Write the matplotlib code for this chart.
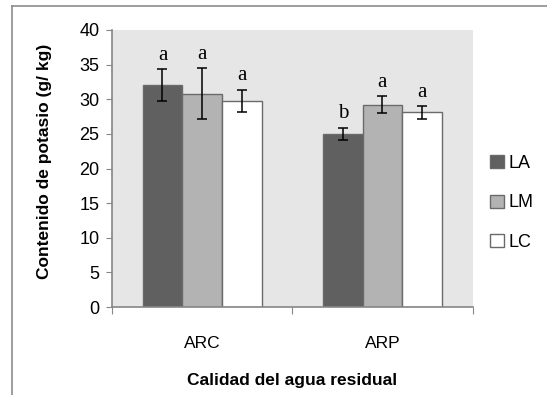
import matplotlib
matplotlib.use("Agg")
import matplotlib.pyplot as plt
import numpy as np
from matplotlib.lines import Line2D

categories = ["ARC", "ARP"]
series = ["LA", "LM", "LC"]
means = {"LA": [32.0, 25.0], "LM": [30.8, 29.2], "LC": [29.8, 28.1]}
errors = {"LA": [2.3, 0.9], "LM": [3.7, 1.2], "LC": [1.6, 0.95]}
letters = {"LA": ["a", "b"], "LM": ["a", "a"], "LC": ["a", "a"]}
yticks = [0, 5, 10, 15, 20, 25, 30, 35, 40]

colors = {"LA": "#606060", "LM": "#b3b3b3", "LC": "#ffffff"}

plt.rcParams['font.family'] = ['Liberation Sans', 'DejaVu Sans']

fig = plt.figure(figsize=(5.47, 3.95), dpi=100)
ax = fig.add_axes([112/547, 1-307/395, (472.5-112)/547, (307-30)/395])
ax.set_facecolor("#e6e6e6")

x = np.arange(len(categories))
w = 0.22
for i, s in enumerate(series):
    pos = x + (i - 1) * w
    ax.bar(pos, means[s], width=w, color=colors[s], edgecolor="#6a6a6a",
           linewidth=1.0, label=s, zorder=2)
    ax.errorbar(pos, means[s], yerr=errors[s], fmt="none", ecolor="black",
                elinewidth=1.1, capsize=3.8, capthick=1.1, zorder=3)
    for p, m, e, t in zip(pos, means[s], errors[s], letters[s]):
        ax.annotate(t, (p, m + e), xytext=(0, 3), textcoords="offset points",
                    ha="center", va="bottom", fontsize=15,
                    family=["Liberation Serif", "DejaVu Serif"])

ax.set_xlim(-0.5, 1.5)
ax.set_ylim(0, 40)
ax.set_yticks(yticks)
ax.tick_params(axis="y", labelsize=13, length=4, color="#868686", pad=5, direction="out")
ax.set_xticks([-0.5, 0.5, 1.5])
ax.set_xticklabels([])
ax.set_xticks(x, minor=True)
ax.set_xticklabels(categories, minor=True)
ax.tick_params(axis="x", which="major", length=5, color="#868686", direction="out")
ax.tick_params(axis="x", which="minor", length=0, labelsize=12.5, pad=21)

for side in ["top", "right"]:
    ax.spines[side].set_visible(False)
for side in ["left", "bottom"]:
    ax.spines[side].set_color("#868686")
    ax.spines[side].set_linewidth(1.2)

ax.set_xlabel("Calidad del agua residual", fontsize=12.5, fontweight="bold", labelpad=16)
fig.text(45/547, 1-161/395, "Contenido de potasio (g/ kg)", rotation=90, fontsize=12.5,
         fontweight="bold", ha="center", va="center")

handles = [plt.Rectangle((0, 0), 1, 1, facecolor=colors[s], edgecolor="#6a6a6a", linewidth=1.0)
           for s in series]
leg = fig.legend(handles, series, loc="center left", bbox_to_anchor=(483/547, 1-203/395),
                 frameon=False, fontsize=13, handlelength=0.75, handleheight=0.75,
                 handletextpad=0.25, labelspacing=1.25, borderaxespad=0)

# chart frame (top and left)
fig.add_artist(Line2D([12/547, 1], [1-6/395, 1-6/395], color="#8c8c8c", linewidth=1.2))
fig.add_artist(Line2D([12/547, 12/547], [0, 1-6/395], color="#8c8c8c", linewidth=1.2))

fig.savefig("out.png", dpi=100)
